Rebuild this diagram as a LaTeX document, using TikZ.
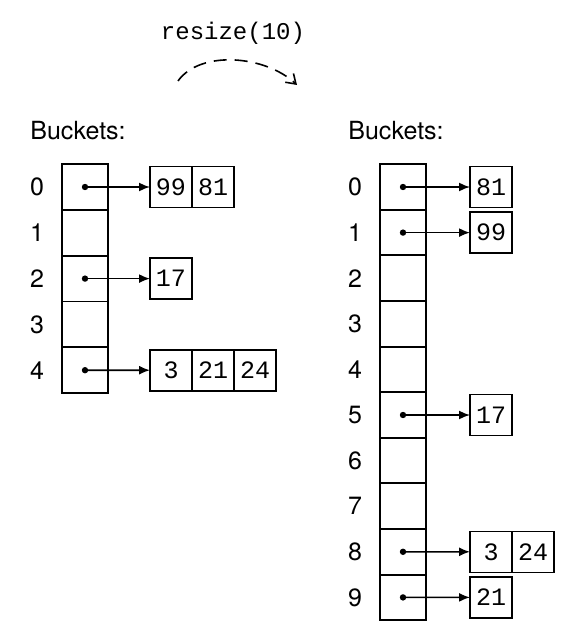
\documentclass[tikz,border=0pt]{standalone}
\usepackage{fontspec}
\setsansfont{TeX Gyre Heros}
\setmonofont{Liberation Mono}
\usetikzlibrary{arrows.meta,positioning}

\begin{document}
\begin{tikzpicture}[x=0.5pt,y=-0.5pt,
  bucket/.style={draw, line width=0.9pt, minimum width=23pt, minimum height=22.9pt, inner sep=0pt, outer sep=0pt},
  entry/.style={draw, line width=0.8pt, minimum width=21pt, minimum height=20.5pt, inner sep=0pt, outer sep=0pt, font=\ttfamily\fontsize{12.5}{14}\selectfont},
  idx/.style={font=\sffamily\fontsize{12.5}{14}\selectfont},
  title/.style={font=\sffamily\fontsize{12.5}{14}\selectfont, anchor=west, inner sep=0pt},
  ptr/.style={-{Latex[length=5.5pt,width=4.5pt]}, line width=0.8pt},
  dot/.style={circle, fill, inner sep=0pt, minimum size=3.2pt}
]
\useasboundingbox (0,0) rectangle (577,642);

% operation
\node[font=\ttfamily\fontsize{12}{14}\selectfont] (resize) at (233,33) {resize(10)};
\coordinate (arcA) at (178,81);
\coordinate (arcB) at (297,85);
\draw[line width=0.8pt, dash pattern=on 6.5pt off 4pt, -{Straight Barb[length=4.5pt,width=6pt]}]
  (arcA) .. controls (200,50) and (265,55) .. (arcB);

% old table
\node[title] (oldTitle) at (30,131) {Buckets:};
\foreach \i in {0,...,4} {
  \node[bucket] (L\i) at (85,{187+45.8*\i}) {};
  \node[idx] (Ln\i) at (37,{187+45.8*\i}) {\i};
}
\node[entry, anchor=west] (L0a) at (150,187) {99};
\node[entry, right=0pt of L0a] (L0b) {81};
\node[entry, anchor=west] (L2a) at (150,278.6) {17};
\node[entry, anchor=west] (L4a) at (150,370.2) {3};
\node[entry, right=0pt of L4a] (L4b) {21};
\node[entry, right=0pt of L4b] (L4c) {24};
\foreach \i in {0,2,4} {
  \node[dot] (Ld\i) at (L\i.center) {};
  \draw[ptr] (Ld\i.center) -- (L\i a.west);
}

% new table
\node[title] (newTitle) at (348,131) {Buckets:};
\foreach \i in {0,...,9} {
  \node[bucket] (R\i) at (403,{187+45.6*\i}) {};
  \node[idx] (Rn\i) at (355,{187+45.6*\i}) {\i};
}
\node[entry, anchor=west] (R0a) at (470,187) {81};
\node[entry, anchor=west] (R1a) at (470,232.6) {99};
\node[entry, anchor=west] (R5a) at (470,415) {17};
\node[entry, anchor=west] (R8a) at (470,551.8) {3};
\node[entry, right=0pt of R8a] (R8b) {24};
\node[entry, anchor=west] (R9a) at (470,597.4) {21};
\foreach \i in {0,1,5,8,9} {
  \node[dot] (Rd\i) at (R\i.center) {};
  \draw[ptr] (Rd\i.center) -- (R\i a.west);
}
\end{tikzpicture}
\end{document}
